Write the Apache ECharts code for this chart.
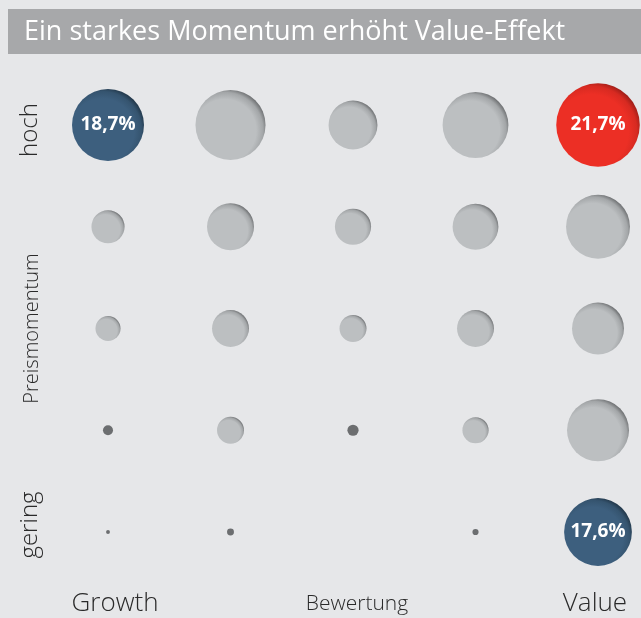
<!DOCTYPE html>
<html>
<head>
<meta charset="utf-8">
<script src="https://cdn.jsdelivr.net/npm/echarts@6/dist/echarts.min.js"></script>
<style>
  html, body { margin: 0; padding: 0; background: #e6e7e9; }
  #chart { width: 641px; height: 618px; }
</style>
</head>
<body>
<div id="chart"></div>
<script>
  // Bewertung (Growth -> Value) and Preismomentum (gering -> hoch)
  const xCats = ['Growth', '', 'Bewertung', '', 'Value'];
  const yCats = ['gering', '', 'Preismomentum', '', 'hoch'];

  // rendite je Zelle in %, Zeilen von oben (hoch) nach unten (gering)
  const rowHoch = [18.7, 18.2, 12.7, 17.1, 21.7];
  const row2 = [8.6, 12.2, 9.4, 11.9, 16.6];
  const row3 = [6.5, 9.6, 7.0, 9.6, 13.5];
  const row4 = [2.6, 7.0, 2.9, 6.8, 16.1];
  const rowGering = [1.0, 1.8, 0, 1.6, 17.6];

  // hervorgehobene Zellen [x, y, farbe]
  const highlights = [
    [0, 4, 'blue'],
    [4, 4, 'red'],
    [4, 0, 'blue']
  ];

  const rows = [rowGering, row4, row3, row2, rowHoch];

  function grad(base, mid, edge) {
    return new echarts.graphic.RadialGradient(0.42, 0.58, 0.62, [
      {offset: 0, color: base},
      {offset: 0.72, color: base},
      {offset: 0.88, color: mid},
      {offset: 1, color: edge}
    ]);
  }
  const colors = {
    gray: grad('#bcbfc1', '#a3a6a8', '#66686a'),
    blue: grad('#3d5f7e', '#35546f', '#1f3344'),
    red: grad('#ec2f25', '#d72a21', '#951c16')
  };

  let data = [];
  rows.forEach(function (row, y) {
    row.forEach(function (v, x) {
      if (v <= 0) return;
      let hl = highlights.find(function (h) { return h[0] === x && h[1] === y; });
      data.push({
        value: [x, y, v],
        itemStyle: {
          color: hl ? colors[hl[2]] : (v < 3.5 ? '#6c6e70' : colors.gray)
        },
        label: {show: !!hl}
      });
    });
  });

  const txt = '#2a2a2a';
  let chart = echarts.init(document.getElementById('chart'));
  let option = {
    backgroundColor: '#e6e7e9',
    animation: false,
    graphic: [
      {
        type: 'rect',
        shape: {x: 8, y: 9, width: 633, height: 45},
        style: {fill: '#a7a8aa'}
      },
      {
        type: 'text',
        left: 24,
        top: 19,
        style: {
          text: 'Ein starkes Momentum erhöht Value-Effekt',
          fill: '#ffffff',
          font: '400 27px "Open Sans"'
        }
      }
    ],
    grid: {left: 108, right: 43, top: 125, bottom: 86},
    xAxis: {
      type: 'category',
      data: xCats,
      boundaryGap: false,
      axisLine: {show: false},
      axisTick: {show: false},
      splitLine: {show: false},
      axisLabel: {
        interval: 0,
        margin: 57,
        formatter: function (v) {
          if (v === 'Growth') return '{g|' + v + '}';
          if (v === 'Value') return '{v|' + v + '}';
          return '{s|' + v + '}';
        },
        rich: {
          g: {fontSize: 26, fontWeight: 300, lineHeight: 30, color: txt, fontFamily: 'Open Sans', padding: [0, 0, 0, 14]},
          v: {fontSize: 26, fontWeight: 300, lineHeight: 30, color: txt, fontFamily: 'Open Sans', padding: [0, 6, 0, 0]},
          s: {fontSize: 21, fontWeight: 300, lineHeight: 30, color: txt, fontFamily: 'Open Sans', padding: [0, 0, 0, 8]}
        }
      }
    },
    yAxis: {
      type: 'category',
      data: yCats,
      boundaryGap: false,
      axisLine: {show: false},
      axisTick: {show: false},
      splitLine: {show: false},
      axisLabel: {
        interval: 0,
        rotate: 90,
        margin: 66,
        formatter: function (v) {
          if (v === 'hoch') return '{h|' + v + '}';
          if (v === 'gering') return '{l|' + v + '}';
          return '{s|' + v + '}';
        },
        rich: {
          h: {fontSize: 24, fontWeight: 300, color: txt, fontFamily: 'Open Sans', padding: [0, 10, 0, 0]},
          l: {fontSize: 24, fontWeight: 300, color: txt, fontFamily: 'Open Sans', padding: [0, 0, 0, 14]},
          s: {fontSize: 20, fontWeight: 300, color: txt, fontFamily: 'Open Sans'}
        }
      }
    },
    series: [{
      type: 'scatter',
      data: data,
      itemStyle: {opacity: 1},
      symbolSize: function (val) {
        return val[2] * 3.85;
      },
      label: {
        position: 'inside',
        color: '#fff',
        fontFamily: 'Open Sans',
        fontWeight: 'bold',
        fontSize: 19,
        formatter: function (p) {
          return p.value[2].toFixed(1).replace('.', ',') + '%';
        }
      }
    }]
  };
  chart.setOption(option);
</script>
</body>
</html>
